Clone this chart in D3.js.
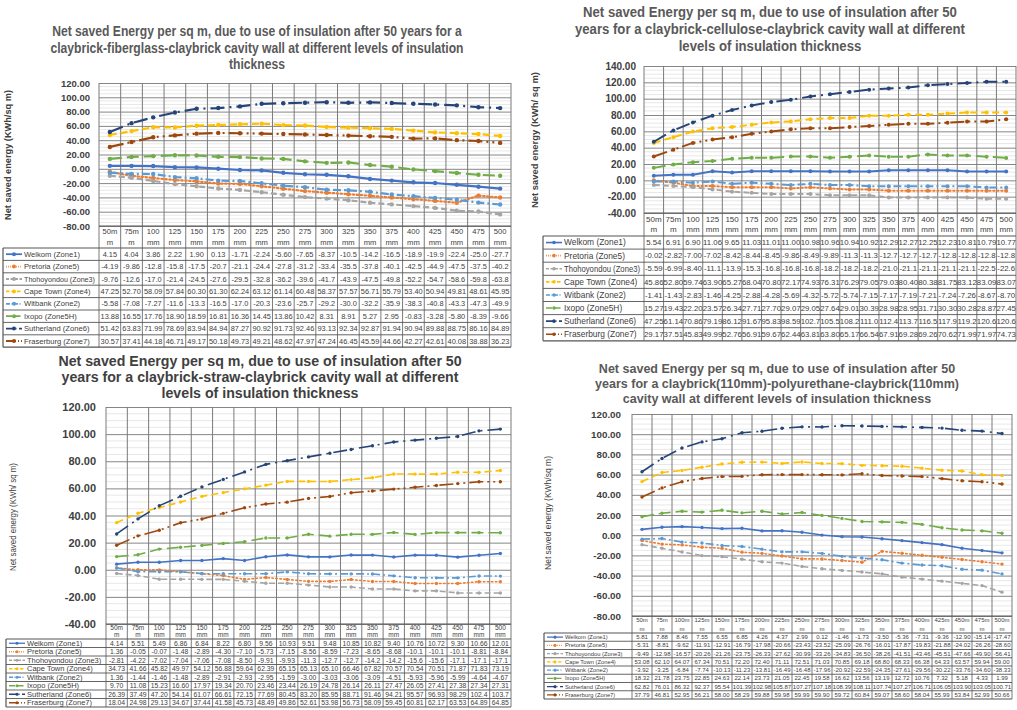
<!DOCTYPE html>
<html><head><meta charset="utf-8">
<script src="https://cdn.jsdelivr.net/npm/d3@7"></script>
<style>body{margin:0;background:#fff;} svg{display:block;font-family:"Liberation Sans",Arial,sans-serif;}</style>
</head><body><svg id="c" width="1017" height="710"></svg>
<script>
const categories = ["50mm","75mm","100mm","125mm","150mm","175mm","200mm","225mm","250mm","275mm","300mm","325mm","350mm","375mm","400mm","425mm","450mm","475mm","500mm"];
const seriesNames = ["Welkom (Zone1)","Pretoria (Zone5)","Thohoyondou (Zone3)","Cape Town (Zone4)","Witbank (Zone2)","Ixopo (Zone5H)","Sutherland (Zone6)","Fraserburg (Zone7)"];

const fiberglassValues = [
 [4.15,4.04,3.86,2.22,1.90,0.13,-1.71,-2.24,-5.60,-7.65,-8.37,-10.5,-14.2,-16.5,-18.9,-19.9,-22.4,-25.0,-27.7],
 [-4.19,-9.86,-12.8,-15.8,-17.5,-20.7,-21.1,-24.4,-27.8,-31.2,-33.4,-35.5,-37.8,-40.1,-42.5,-44.9,-47.5,-37.5,-40.2],
 [-9.76,-12.6,-17.0,-21.4,-24.5,-27.6,-29.5,-32.8,-36.2,-39.6,-41.7,-43.9,-47.5,-49.8,-52.2,-54.7,-58.6,-59.8,-63.8],
 [47.25,52.70,58.09,57.84,60.30,61.30,62.24,63.12,61.14,60.48,58.37,57.57,56.71,55.79,53.40,50.94,49.81,48.61,45.95],
 [-5.58,-7.08,-7.27,-11.6,-13.3,-16.5,-17.0,-20.3,-23.6,-25.7,-29.2,-30.0,-32.2,-35.9,-38.3,-40.8,-43.3,-47.3,-49.9],
 [13.88,16.55,17.76,18.90,18.59,16.81,16.36,14.45,13.86,10.42,8.31,8.91,5.27,2.95,-0.83,-3.28,-5.80,-8.39,-9.66],
 [51.42,63.83,71.99,78.69,83.94,84.94,87.27,90.92,91.73,92.46,93.13,92.34,92.87,91.94,90.94,89.88,88.75,86.16,84.89],
 [30.57,37.41,44.18,46.71,49.17,50.18,49.73,49.21,48.62,47.97,47.24,46.45,45.59,44.66,42.27,42.61,40.08,38.88,36.23]
];
const celluloseValues = [
 [5.54,6.91,6.90,11.06,9.65,11.03,11.01,11.00,10.98,10.96,10.94,10.92,12.29,12.27,12.25,12.23,10.81,10.79,10.77],
 [-0.02,-2.82,-7.00,-7.02,-8.42,-8.44,-8.45,-9.86,-8.49,-9.89,-11.3,-11.3,-12.7,-12.7,-12.7,-12.8,-12.8,-12.8,-12.8],
 [-5.59,-6.99,-8.40,-11.1,-13.9,-15.3,-16.8,-16.8,-16.8,-18.2,-18.2,-18.2,-21.0,-21.1,-21.1,-21.1,-21.1,-22.5,-22.6],
 [45.86,52.80,59.74,63.90,65.27,68.04,70.80,72.17,74.93,76.31,76.29,79.05,79.03,80.40,80.38,81.75,83.12,83.09,83.07],
 [-1.41,-1.43,-2.83,-1.46,-4.25,-2.88,-4.28,-5.69,-4.32,-5.72,-5.74,-7.15,-7.17,-7.19,-7.21,-7.24,-7.26,-8.67,-8.70],
 [15.27,19.43,22.20,23.57,26.34,27.71,27.70,29.07,29.05,27.64,29.01,30.39,28.98,28.95,31.71,30.30,30.28,28.87,27.45],
 [47.25,61.14,70.86,79.19,86.12,91.67,95.83,98.59,102.7,105.5,108.2,111.0,112.4,113.7,116.5,117.9,119.2,120.6,120.6],
 [29.17,37.51,45.83,49.99,52.76,56.91,59.67,62.44,63.81,63.80,65.17,66.54,67.91,69.28,69.26,70.62,71.99,71.97,74.73]
];
const strawValues = [
 [4.14,5.51,5.49,6.86,6.84,8.22,6.80,9.56,10.93,9.51,9.48,10.85,10.82,9.40,10.76,10.72,9.30,10.66,12.01],
 [1.36,-0.05,-0.07,-1.48,-2.89,-4.30,-7.10,-5.73,-7.15,-8.56,-8.59,-7.23,-8.65,-8.68,-10.1,-10.1,-10.1,-8.81,-8.84],
 [-2.81,-4.22,-7.02,-7.04,-7.06,-7.08,-8.50,-9.91,-9.93,-11.3,-12.7,-12.7,-14.2,-14.2,-15.6,-15.6,-17.1,-17.1,-17.1],
 [34.73,41.66,45.82,49.97,54.12,56.88,59.64,62.39,65.15,65.13,65.10,66.46,67.82,70.57,70.54,70.51,71.87,71.83,73.19],
 [1.36,-1.44,-1.46,-1.48,-2.89,-2.91,-2.93,-2.95,-1.59,-3.00,-3.03,-3.06,-3.09,-4.51,-5.93,-5.96,-5.99,-4.64,-4.67],
 [9.70,11.08,15.23,16.60,17.97,19.34,20.70,23.46,23.44,26.19,24.78,26.14,26.11,27.47,26.05,27.41,27.38,27.34,27.31],
 [26.39,37.49,47.20,54.14,61.07,66.61,72.15,77.69,80.45,83.20,85.95,88.71,91.46,94.21,95.57,96.93,98.29,102.4,103.7],
 [18.04,24.98,29.13,34.67,37.44,41.58,45.73,48.49,49.86,52.61,53.98,56.73,58.09,59.45,60.81,62.17,63.53,64.89,64.85]
];
const polyurethaneValues = [
 [5.81,7.88,8.46,7.55,6.55,6.85,4.26,4.37,2.99,0.12,-1.46,-1.73,-3.50,-5.36,-7.31,-9.36,-12.90,-15.14,-17.47],
 [-5.31,-8.81,-9.62,-11.91,-12.91,-16.79,-17.98,-20.66,-23.43,-23.52,-25.09,-26.76,-16.01,-17.87,-19.83,-21.88,-24.02,-26.26,-28.60],
 [-9.49,-12.98,-16.57,-20.26,-21.26,-23.75,-26.33,-27.62,-30.99,-33.26,-34.83,-36.50,-38.26,-41.51,-43.46,-45.51,-47.66,-49.90,-56.41],
 [53.08,62.10,64.07,67.34,70.51,72.20,72.40,71.11,72.51,71.03,70.85,69.18,68.80,68.33,66.38,64.33,63.57,59.94,59.00],
 [-3.92,-3.25,-6.84,-7.74,-10.13,-11.23,-13.81,-16.49,-16.48,-17.96,-20.92,-22.59,-24.35,-27.61,-29.56,-30.22,-33.76,-34.60,-38.33],
 [18.32,21.78,23.75,22.85,24.63,22.14,23.73,21.05,22.45,19.58,16.62,13.56,13.19,12.72,10.76,7.32,5.18,4.33,1.99],
 [62.82,76.01,86.32,92.37,95.54,101.39,102.98,105.87,107.27,107.18,108.39,108.11,107.74,107.27,106.71,106.05,103.90,103.05,100.71],
 [37.79,46.81,52.95,56.21,58.00,58.29,59.88,59.98,59.99,59.90,59.72,60.84,59.07,58.60,58.04,55.99,53.84,52.99,50.66]
];

const fiberglassTicks = [120,100,80,60,40,20,0,-20,-40,-60,-80];
const celluloseTicks = [140,120,100,80,60,40,20,0,-20,-40];
const strawTicks = [120,100,80,60,40,20,0,-20,-40];
const polyurethaneTicks = [120,100,80,60,40,20,0,-20,-40,-60,-80];

const fiberglassTitle = ["Net saved Energy per sq m, due to use of insulation after 50 years for a","claybrick-fiberglass-claybrick cavity wall at different levels of insulation","thickness"];
const celluloseTitle = ["Net saved Energy per sq m, due to use of insulation after 50","years for a claybrick-cellulose-claybrick cavity wall at different","levels of insulation thickness"];
const strawTitle = ["Net saved Energy per sq m, due to use of insulation after 50","years for a claybrick-straw-claybrick cavity wall at different","levels of insulation thickness"];
const polyurethaneTitle = ["Net saved Energy per sq m, due to use of insulation after 50","years for a claybrick(110mm)-polyurethane-claybrick(110mm)","cavity wall at different levels of insulation thickness"];

const seriesColors = ["#4472C4","#ED7D31","#A5A5A5","#FFC000","#5B9BD5","#70AD47","#264478","#9E480E"];
const seriesDash = [null,"1.5,2.5","6,3","7,4","8,3,2,3","12,5","14,5,2,5","14,4,2,4,2,4"];

const split3 = s => [s.slice(0,3), s.slice(3)];
const splitLast = s => [s.slice(0,-1), s.slice(-1)];

const panels = [
 {values:fiberglassValues, ticks:fiberglassTicks, title:fiberglassTitle, ylabText:"Net saved energy (KWh/sq m)",
  x0:99, x1:511, yTop:83, yBot:226, tickRight:90, tickFont:9.5,
  ylab:{x:8,y:155,len:130,bold:true,size:9.5}, titleX:257, titleY:[31,48,64], titleRef:{i:1,w:413}, titleSize:14, titleColor:"#595959",
  legendX0:3, headerBot:248, rowH:12.4, headerGap:10.6, headerFont:7.6, valueFont:7.4, legendFont:7.6,
  lineW:2.2, markerR:2.2, split:split3, maxChars:5},
 {values:celluloseValues, ticks:celluloseTicks, title:celluloseTitle, ylabText:"Net saved energy (KWh/ sq m)",
  x0:644, x1:1016, yTop:66, yBot:213, tickRight:636, tickFont:10,
  ylab:{x:535,y:140,len:136,bold:true,size:9.5}, titleX:770, titleY:[12,29,46], titleRef:{i:1,w:390}, titleSize:14, titleColor:"#595959",
  legendX0:543, headerBot:236, rowH:13.1, headerGap:10, headerFont:8, valueFont:7.8, legendFont:8.4,
  lineW:2, markerR:2, split:split3, maxChars:5},
 {values:strawValues, ticks:strawTicks, title:strawTitle, ylabText:"Net saved energy (KWh/ sq m)",
  x0:106, x1:511, yTop:407, yBot:624, tickRight:96, tickFont:11,
  ylab:{x:13,y:517,len:108,bold:false,size:9}, titleX:260, titleY:[361,377,393], titleRef:{i:1,w:397}, titleSize:14, titleColor:"#404040",
  legendX0:6, headerBot:639, rowH:8.5, headerGap:7.3, headerFont:6.5, valueFont:6.8, legendFont:7.5,
  lineW:1.6, markerR:1.7, split:split3, maxChars:5},
 {values:polyurethaneValues, ticks:polyurethaneTicks, title:polyurethaneTitle, ylabText:"Net saved energy (KWh/sq m)",
  x0:632, x1:1012, yTop:414, yBot:616, tickRight:621, tickFont:9.8,
  ylab:{x:548,y:513,len:114,bold:false,size:9}, titleX:777, titleY:[368,383,398], titleRef:{i:1,w:364}, titleSize:13, titleColor:"#595959",
  legendX0:544, headerBot:633, rowH:8.25, headerGap:8.5, headerFont:6, valueFont:6, legendFont:5.8,
  lineW:1.6, markerR:1.7, split:splitLast, maxChars:7}
];

const svg = d3.select("#c");
svg.append("rect").attr("width",1017).attr("height",710).attr("fill","#fff");

function fmt(v, maxChars){ let s = v.toFixed(2); if (s.length > maxChars) s = v.toFixed(1); return s; }

function drawPanel(p){
  const g = svg.append("g");
  const yMin = d3.min(p.ticks), yMax = d3.max(p.ticks);
  const step = p.ticks[0] - p.ticks[1];
  const x = d3.scaleBand().domain(categories).range([p.x0, p.x1]);
  const y = d3.scaleLinear().domain([yMin, yMax]).range([p.yBot, p.yTop]);
  const cx = c => x(c) + x.bandwidth()/2;
  const nRows = p.values.length;
  const tableBot = p.headerBot + nRows*p.rowH;

  const minor = d3.range(yMin, yMax + 1e-6, step/4).filter(v => !p.ticks.includes(v));
  g.append("g").selectAll("line").data(minor).join("line")
    .attr("x1",p.x0).attr("x2",p.x1).attr("y1",d=>y(d)).attr("y2",d=>y(d))
    .attr("stroke","#d9d9d9").attr("stroke-width",0.6);

  const grid = g.append("g").attr("transform",`translate(${p.x0},0)`)
    .call(d3.axisLeft(y).tickValues(p.ticks).tickSize(-(p.x1-p.x0)).tickFormat(""));
  grid.select(".domain").remove();
  grid.selectAll("line").attr("stroke","#868686").attr("stroke-width",1);

  const bounds = categories.map(c => x(c)).concat([p.x1]);
  g.append("g").selectAll("line").data(bounds).join("line")
    .attr("x1",d=>d).attr("x2",d=>d).attr("y1",p.yTop).attr("y2",tableBot)
    .attr("stroke","#7a7a7a").attr("stroke-width",1);

  const rowLines = d3.range(nRows+1).map(i => p.headerBot + i*p.rowH);
  g.append("g").selectAll("line").data(rowLines).join("line")
    .attr("x1",p.legendX0).attr("x2",p.x1).attr("y1",d=>d).attr("y2",d=>d)
    .attr("stroke","#555").attr("stroke-width",(d,i)=> (i===0||i===nRows)?1.2:0.9);
  g.append("line").attr("x1",p.x0).attr("x2",p.x1).attr("y1",p.yBot).attr("y2",p.yBot)
    .attr("stroke","#555").attr("stroke-width",1);
  g.append("line").attr("x1",p.legendX0).attr("x2",p.legendX0).attr("y1",p.headerBot).attr("y2",tableBot)
    .attr("stroke","#555").attr("stroke-width",1.2);

  const hc = (p.yBot + p.headerBot)/2;
  categories.forEach(c => {
    const parts = p.split(c);
    parts.forEach((t,k) => {
      g.append("text").attr("x",cx(c)).attr("y",hc + (k===0?-1:1)*p.headerGap/2).attr("dy","0.35em")
        .attr("text-anchor","middle").attr("font-size",p.headerFont).attr("fill","#404040").text(t);
    });
  });

  const line = d3.line().x((d,i)=>cx(categories[i])).y(d=>y(d));
  p.values.forEach((vals, s) => {
    g.append("path").datum(vals).attr("d",line).attr("fill","none")
      .attr("stroke",seriesColors[s]).attr("stroke-width",p.lineW)
      .attr("stroke-dasharray",seriesDash[s]).attr("stroke-linecap", s===1?"round":"butt");
    g.append("g").selectAll("circle").data(vals).join("circle")
      .attr("cx",(d,i)=>cx(categories[i])).attr("cy",d=>y(d)).attr("r",p.markerR)
      .attr("fill",seriesColors[s]);
  });

  p.values.forEach((vals, s) => {
    const ry = p.headerBot + (s+0.5)*p.rowH;
    const lx0 = p.legendX0 + 3, lx1 = p.legendX0 + 19;
    g.append("line").attr("x1",lx0).attr("x2",lx1).attr("y1",ry).attr("y2",ry)
      .attr("stroke",seriesColors[s]).attr("stroke-width",Math.max(1.3,p.lineW*0.8))
      .attr("stroke-dasharray", seriesDash[s] ? seriesDash[s].split(",").map(v=>+v*0.5).join(",") : null);
    g.append("circle").attr("cx",(lx0+lx1)/2).attr("cy",ry).attr("r",p.markerR*0.9).attr("fill",seriesColors[s]);
    const lt = g.append("text").attr("x",lx1+2).attr("y",ry).attr("dy","0.35em").attr("font-size",p.legendFont)
      .attr("fill","#404040").text(seriesNames[s]);
    const avail = p.x0 - (lx1+2) - 4;
    if (lt.node().getComputedTextLength() > avail) lt.attr("textLength",avail).attr("lengthAdjust","spacingAndGlyphs");
    g.append("g").selectAll("text").data(vals).join("text")
      .attr("x",(d,i)=>cx(categories[i])).attr("y",ry).attr("dy","0.35em")
      .attr("text-anchor","middle").attr("font-size",p.valueFont).attr("fill","#404040")
      .text(d => fmt(d, p.maxChars));
  });

  const ax = g.append("g").attr("transform",`translate(${p.tickRight},0)`)
    .call(d3.axisLeft(y).tickValues(p.ticks).tickSize(0).tickPadding(0).tickFormat(d => d.toFixed(2)));
  ax.select(".domain").remove();
  ax.selectAll("text").attr("font-size",p.tickFont).attr("font-weight","bold").attr("fill","#404040")
    .attr("font-family","'Liberation Sans',Arial,sans-serif");

  const yl = g.append("text").attr("transform",`translate(${p.ylab.x},${p.ylab.y}) rotate(-90)`)
    .attr("text-anchor","middle").attr("dy","0.35em").attr("font-size",p.ylab.size)
    .attr("font-weight",p.ylab.bold?"bold":"normal").attr("fill","#404040").text(p.ylabText);
  yl.attr("textLength",p.ylab.len).attr("lengthAdjust","spacingAndGlyphs");

  const tl = p.title.map((t,k) => g.append("text").attr("x",p.titleX).attr("y",p.titleY[k]).attr("dy","0.35em")
    .attr("text-anchor","middle").attr("font-size",p.titleSize).attr("font-weight","bold")
    .attr("fill",p.titleColor).text(t));
  const scale = p.titleRef.w / tl[p.titleRef.i].node().getComputedTextLength();
  tl.forEach(t => { const w = t.node().getComputedTextLength(); t.attr("textLength", w*scale).attr("lengthAdjust","spacingAndGlyphs"); });
}

panels.forEach(drawPanel);
</script></body></html>
